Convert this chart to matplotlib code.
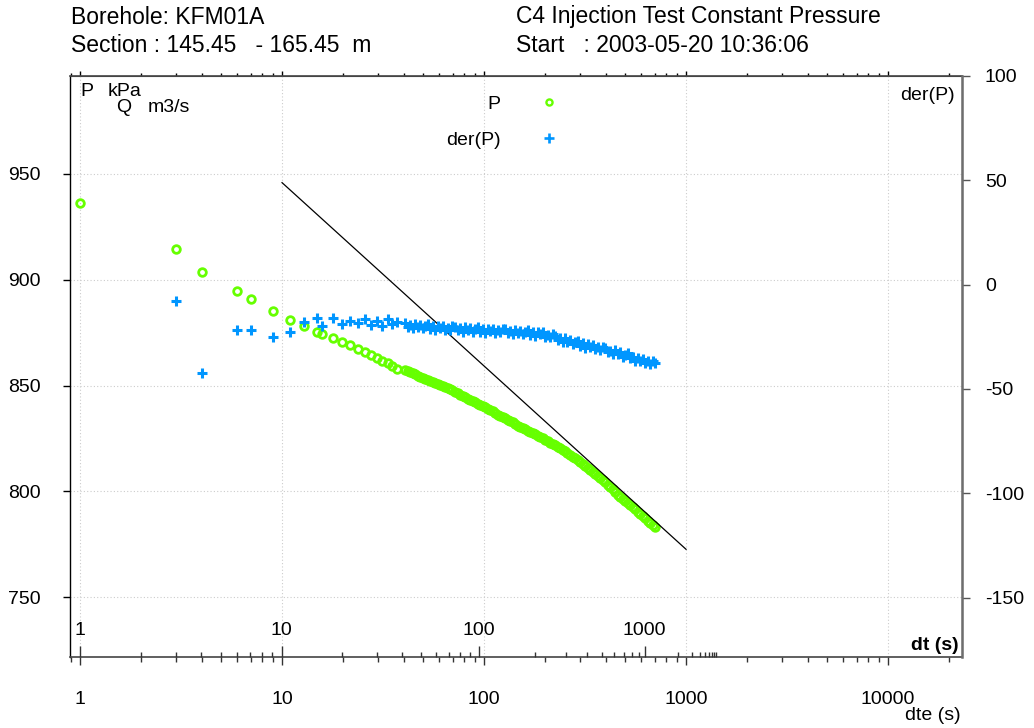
import matplotlib
matplotlib.use("Agg")
import matplotlib.pyplot as plt
from matplotlib.lines import Line2D
from matplotlib.ticker import FixedLocator, FuncFormatter, NullFormatter

plt.rcParams["font.family"] = ["Liberation Sans", "DejaVu Sans"]
plt.rcParams["axes.unicode_minus"] = False

GREEN = "#66ff00"
BLUE = "#0096ff"
TP = 1662.0  # flow time used for equivalent time dte

# early samples (x is dte in s)
early_dte = [1.0, 3.0, 4.0, 6.0, 7.0, 9.0, 10.9, 12.9, 14.9, 15.8, 17.8,
             19.8, 21.7, 23.7, 25.6, 27.5, 29.5, 31.4, 33.3, 35.2, 37.1]
early_p = [936.3, 914.6, 903.8, 894.9, 891.1, 885.4, 881.0, 878.2, 875.3,
           874.4, 872.5, 870.6, 869.2, 867.3, 865.9, 864.5, 863.0, 861.6,
           860.7, 859.3, 857.8]
early_der = [-7.7, -42.6, -21.8, -21.8, -25.2, -22.5, -18.1, -16.2, -19.7,
             -16.2, -18.9, -17.4, -18.6, -16.6, -19.3, -17.4, -19.7, -16.6,
             -19.0, -17.8]

# dense part of the record
dense_dte = [40.6, 41.8, 43.0, 44.3, 45.6, 46.9, 48.2, 49.6, 51.1, 52.5,
             54.1, 55.6, 57.2, 58.9, 60.6, 62.3, 64.1, 66.0, 67.9, 69.8,
             71.9, 73.9, 76.1, 78.3, 80.5, 82.9, 85.3, 87.7, 90.3, 92.9,
             95.6, 98.3, 101.2, 104.1, 107.1, 110.2, 113.4, 116.7, 120.0, 123.5,
             127.1, 130.7, 134.5, 138.4, 142.4, 146.5, 150.7, 155.1, 159.6, 164.2,
             168.9, 173.8, 178.8, 184.0, 189.3, 194.8, 200.4, 206.2, 212.1, 218.3,
             224.6, 231.1, 237.7, 244.6, 251.7, 258.9, 266.4, 274.1, 282.1, 290.2,
             298.6, 307.3, 316.1, 325.3, 334.7, 344.4, 354.3, 364.6, 375.1, 386.0,
             397.1, 408.6, 420.4, 432.6, 445.1, 457.9, 471.2, 484.8, 498.8, 513.3,
             528.1, 543.4, 559.1, 575.3, 591.9, 609.0, 626.6, 644.8, 663.4, 682.6,
             702.3]
dense_p = [857.3, 856.9, 856.4, 855.8, 855.3, 854.7, 854.1, 853.6, 853.2, 852.7,
           852.2, 851.7, 851.3, 850.8, 850.3, 849.8, 849.4, 848.9, 848.4, 847.7,
           847.0, 846.3, 845.6, 845.0, 844.4, 843.8, 843.2, 842.6, 842.0, 841.4,
           840.8, 840.2, 839.7, 839.1, 838.5, 837.8, 837.1, 836.3, 835.6, 835.0,
           834.5, 833.9, 833.3, 832.6, 831.9, 831.1, 830.4, 829.8, 829.3, 828.7,
           828.1, 827.5, 826.9, 826.3, 825.7, 825.0, 824.3, 823.6, 822.9, 822.3,
           821.7, 821.1, 820.5, 819.7, 818.9, 818.0, 817.2, 816.4, 815.6, 814.7,
           813.9, 813.0, 812.0, 811.1, 810.1, 809.2, 808.2, 807.3, 806.3, 805.3,
           804.2, 803.2, 802.1, 800.9, 799.7, 798.5, 797.3, 796.4, 795.5, 794.5,
           793.6, 792.5, 791.5, 790.4, 789.3, 788.3, 787.2, 786.2, 785.1, 784.2,
           783.2]
dense_der = [-18.5, -20.2, -19.3, -20.9, -18.7, -20.2, -19.3, -21.0, -19.9, -18.9,
             -21.1, -20.0, -21.9, -20.0, -21.0, -19.9, -21.8, -20.6, -21.6, -19.9,
             -20.3, -21.9, -21.0, -22.6, -20.3, -21.9, -20.9, -22.6, -21.5, -20.4,
             -22.6, -21.4, -23.2, -21.3, -22.2, -21.1, -23.0, -21.8, -22.8, -21.1,
             -21.5, -23.1, -22.2, -23.8, -21.6, -23.1, -22.2, -23.9, -22.8, -21.8,
             -24.0, -22.8, -24.8, -22.9, -23.9, -22.9, -25.1, -24.0, -25.2, -23.8,
             -24.4, -26.4, -25.7, -27.5, -25.5, -27.3, -26.6, -28.5, -27.6, -26.8,
             -29.2, -28.2, -30.3, -28.6, -29.8, -28.9, -31.1, -30.1, -31.3, -29.8,
             -30.4, -32.3, -31.6, -33.4, -31.4, -33.2, -32.5, -34.5, -33.6, -32.9,
             -35.3, -34.5, -36.7, -35.2, -36.5, -35.6, -37.8, -36.7, -38.0, -36.4,
             -37.5]

# straight-line fit drawn on the semilog plot
line_dte = [10.0, 1000.0]
line_p = [945.9, 772.6]

p_ticks = [750, 800, 850, 900, 950]
der_ticks = [-150, -100, -50, 0, 50, 100]
dt_major = [1, 10, 100, 1000]
dt_minor = [k * 10 ** n for n in range(4) for k in range(2, 10)]

XLIM = (0.892, 23230)
PLIM = (721.7, 996.3)
DERLIM = (-178.5, 100)
FS = 14


def dte(dt):
    return TP * dt / (TP + dt)


fig = plt.figure(figsize=(10.34, 7.28), dpi=100)
ax = fig.add_axes([70 / 1034, 1 - 657 / 728, 892 / 1034, 581 / 728])
axr = ax.twinx()
axdt = ax.twiny()

ax.set_xscale("log")
ax.set_xlim(*XLIM)
ax.set_ylim(*PLIM)
axr.set_ylim(*DERLIM)
axdt.set_xscale("log")
axdt.set_xlim(*XLIM)

# data
ax.plot(early_dte + dense_dte, early_p + dense_p, ls="none", marker="o",
        mfc="none", mec=GREEN, ms=5.5, mew=2.0, zorder=3)
ax.plot(line_dte, line_p, color="black", lw=0.9, zorder=4)
axr.plot(early_dte[1:] + dense_dte, early_der + dense_der, ls="none",
         marker="+", color=BLUE, ms=7.6, mew=2.2, zorder=3)

# grid
ax.set_axisbelow(True)
ax.grid(True, which="major", color="#cccccc", ls=(0, (1, 2)), lw=0.8)

# bottom dte axis
ax.xaxis.set_major_formatter(FuncFormatter(lambda v, _: f"{v:g}"))
ax.xaxis.set_minor_formatter(NullFormatter())
ax.tick_params(axis="x", which="major", direction="out", length=5.8,
               width=1.0, pad=19, labelsize=FS, colors="#333333")
ax.tick_params(axis="x", which="minor", direction="out", length=3.6,
               width=1.0, colors="#333333")
ax.tick_params(axis="x", labelcolor="black")
ax.set_xlabel("dte (s)", fontsize=FS, ha="right", va="center")
ax.xaxis.set_label_coords(0.998, -0.1015)

# top ticks
sec = ax.secondary_xaxis("top")
sec.xaxis.set_major_formatter(NullFormatter())
sec.xaxis.set_minor_formatter(NullFormatter())
sec.tick_params(axis="x", which="major", direction="out", length=3.8, width=1.0)
sec.tick_params(axis="x", which="minor", direction="out", length=2.0, width=1.0)
sec.spines["top"].set_color("#444444")

# dt axis (ticks drawn inward on the bottom spine)
axdt.xaxis.set_ticks_position("bottom")
axdt.xaxis.set_major_locator(FixedLocator([dte(v) for v in dt_major]))
axdt.xaxis.set_major_formatter(FuncFormatter(lambda v, i: f"{dt_major[i]}"))
axdt.xaxis.set_minor_locator(FixedLocator([dte(v) for v in dt_minor]))
axdt.xaxis.set_minor_formatter(NullFormatter())
axdt.tick_params(axis="x", which="major", direction="in", length=8,
                 width=1.0, pad=-25, labelsize=FS, colors="#333333",
                 labelcolor="black")
axdt.tick_params(axis="x", which="minor", direction="in", length=3.6,
                 width=1.0, colors="#333333")
for s in axdt.spines.values():
    s.set_visible(False)

# left P axis
ax.set_yticks(p_ticks)
ax.tick_params(axis="y", direction="out", length=5, width=1.0, pad=16,
               labelsize=FS)

# right der axis
axr.set_yticks(der_ticks)
axr.tick_params(axis="y", direction="out", length=5.5, width=1.0, pad=11,
                labelsize=FS, colors="#555555", labelcolor="black")

ax.spines["left"].set_color("black")
ax.spines["left"].set_linewidth(1.0)
for name in ("top", "bottom"):
    ax.spines[name].set_color("#444444")
    ax.spines[name].set_linewidth(1.2)
axr.spines["right"].set_color("#6e6e6e")
axr.spines["right"].set_linewidth(1.8)
for name in ("top", "bottom", "left"):
    axr.spines[name].set_visible(False)

# labels inside the plot
t = ax.transAxes
ax.text((80 - 70) / 892, (657 - 92) / 581, "P", fontsize=FS, va="center", transform=t)
ax.text((108 - 70) / 892, (657 - 92) / 581, "kPa", fontsize=FS, va="center", transform=t)
ax.text((116 - 70) / 892, (657 - 108) / 581, "Q", fontsize=FS, va="center", transform=t)
ax.text((148 - 70) / 892, (657 - 108) / 581, "m3/s", fontsize=FS, va="center", transform=t)
ax.text((955 - 70) / 892, (657 - 95) / 581, "der(P)", fontsize=FS, ha="right",
        va="center", transform=t)
ax.text((959 - 70) / 892, (657 - 645) / 581, "dt (s)", fontsize=FS,
        fontweight="bold", ha="right", va="center", transform=t)

# legend
handles = [
    Line2D([], [], ls="none", marker="o", mfc="none", mec=GREEN, ms=4.4, mew=1.7),
    Line2D([], [], ls="none", marker="+", color=BLUE, ms=6.8, mew=1.9),
]
leg = axr.legend(handles, ["P", "der(P)"], loc="upper left",
                 bbox_to_anchor=((446 - 70) / 892, (657 - 95) / 581),
                 frameon=False, markerfirst=False, fontsize=FS,
                 handlelength=1.0, handletextpad=2.0, labelspacing=0.95,
                 borderpad=0, borderaxespad=0)

# header
HFS = 16.5
fig.text(71 / 1034, 1 - 17 / 728, "Borehole: KFM01A", fontsize=HFS, va="center")
fig.text(71 / 1034, 1 - 46 / 728, "Section : 145.45   - 165.45  m", fontsize=HFS, va="center")
fig.text(516 / 1034, 1 - 17 / 728, "C4 Injection Test Constant Pressure", fontsize=HFS, va="center")
fig.text(516 / 1034, 1 - 46 / 728, "Start   : 2003-05-20 10:36:06", fontsize=HFS, va="center")

fig.savefig("out.png", dpi=100)
